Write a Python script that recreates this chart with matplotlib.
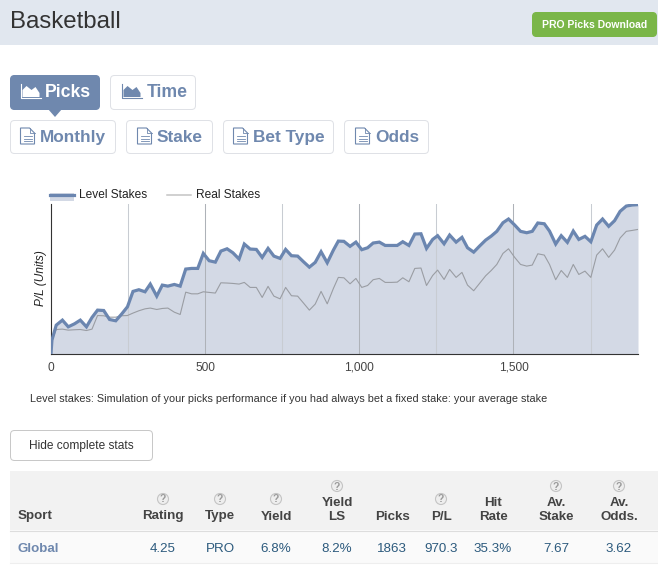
import matplotlib
matplotlib.use("Agg")
import matplotlib.pyplot as plt
from matplotlib.patches import Circle, FancyBboxPatch, Polygon, Rectangle

plt.rcParams["font.family"] = ["Liberation Sans", "DejaVu Sans"]

# chart values
picks = [0, 3, 17, 37, 56, 76, 95, 115, 133, 151, 171, 190, 210, 229, 248, 266, 285, 305, 322, 343,
         361, 379, 400, 419, 437, 456, 476, 494, 513, 533, 551, 571, 590, 610, 627, 646, 666, 685,
         704, 723, 743, 761, 780, 800, 819, 838, 857, 876, 896, 916, 932, 950, 970, 989, 1008, 1027,
         1045, 1065, 1084, 1104, 1123, 1141, 1161, 1180, 1200, 1218, 1238, 1254, 1275, 1293, 1314,
         1333, 1351, 1371, 1390, 1410, 1428, 1446, 1466, 1484, 1504, 1523, 1543, 1561, 1579, 1600,
         1617, 1637, 1655, 1675, 1694, 1712, 1732, 1751, 1770, 1789, 1809, 1828, 1846, 1866, 1885, 1904]
level_stakes = [0, 104, 221, 260, 208, 231, 260, 208, 281, 338, 335, 265, 255, 307, 364, 484, 497, 481,
                541, 447, 533, 525, 538, 525, 658, 663, 663, 780, 723, 712, 798, 816, 785, 736, 853,
                814, 811, 749, 819, 759, 741, 811, 762, 759, 715, 673, 710, 793, 707, 806, 876, 874,
                835, 868, 809, 824, 861, 868, 842, 842, 842, 871, 842, 931, 933, 819, 889, 918, 855,
                923, 868, 905, 824, 790, 837, 884, 915, 952, 1019, 1048, 1001, 952, 941, 952, 1017,
                1011, 954, 853, 918, 866, 954, 889, 913, 871, 1001, 1048, 991, 1035, 1108, 1149, 1157, 1160]
real_stakes = [0, 104, 187, 190, 182, 185, 187, 179, 190, 296, 294, 283, 283, 294, 296, 315, 333, 348,
               354, 343, 351, 354, 322, 304, 478, 465, 465, 481, 476, 471, 551, 549, 546, 541, 554,
               515, 515, 437, 523, 447, 426, 515, 450, 447, 393, 338, 385, 484, 387, 507, 593, 590,
               543, 585, 515, 530, 575, 585, 554, 554, 556, 590, 559, 663, 666, 530, 608, 650, 577,
               655, 593, 632, 533, 489, 546, 606, 647, 694, 780, 816, 749, 694, 681, 689, 777, 767,
               694, 575, 647, 593, 694, 616, 642, 593, 767, 816, 749, 806, 900, 952, 959, 967]
major_ticks = [0, 500, 1000, 1500]
minor_ticks = [250, 750, 1250, 1750]

# table values
table_headers = ["Rating", "Type", "Yield", "Yield\nLS", "Picks", "P/L", "Hit\nRate", "Av.\nStake", "Av.\nOdds."]
table_values = ["4.25", "PRO", "6.8%", "8.2%", "1863", "970.3", "35.3%", "7.67", "3.62"]
table_help = [True, True, True, True, False, True, False, True, True]
table_x = [163, 220, 276, 337, 392, 441, 493, 556, 619]

W, H = 658, 567
BLUE = "#6f88ae"
BORDER = "#dfe1e6"

fig = plt.figure(figsize=(W / 100, H / 100), dpi=100)
page = fig.add_axes([0, 0, 1, 1])
page.set_xlim(0, W)
page.set_ylim(H, 0)
page.axis("off")


def button(x0, y0, x1, y1, face="white", edge=BORDER):
    box = FancyBboxPatch((x0 + 4.5, y0 + 4.5), x1 - x0 - 9, y1 - y0 - 9, boxstyle="round,pad=4",
                         fc=face, ec=edge, lw=0.72)
    box.set_snap(False)
    page.add_patch(box)


def area_icon(x, y, color):
    page.plot([x, x, x + 20], [y, y + 14, y + 14], color=color, lw=0.8)
    page.add_patch(Polygon([(x + 2, y + 13), (x + 2, y + 6), (x + 6, y + 2), (x + 11, y + 6), (x + 15, y + 3),
                            (x + 19, y + 9), (x + 19, y + 13)], fc=color, ec="none"))


def doc_icon(x, y, color):
    page.add_patch(Polygon([(x, y), (x + 9, y), (x + 14, y + 5), (x + 14, y + 16), (x, y + 16)],
                           fc="white", ec=color, lw=0.8))
    page.plot([x + 9, x + 9, x + 14], [y, y + 5, y + 5], color=color, lw=0.6)
    for dy in (8, 10.5, 13):
        page.plot([x + 3, x + 11], [y + dy, y + dy], color=color, lw=0.6)


def help_icon(x, y):
    page.add_patch(Circle((x, y), 5.5, fc="#eeeeee", ec="#c4c4c4", lw=0.8))
    page.text(x, y + 0.5, "?", ha="center", va="center", fontsize=7.5, fontweight="bold", color="#9a9a9a")


# header band
page.add_patch(Rectangle((0, 0), W, 44.5, fc="#e1e7ef", ec="none"))
page.text(10, 22.5, "Basketball", fontsize=17.3, color="#333333", va="center")
button(532, 12, 657, 37, face="#7ab648", edge="#7ab648")
page.text(595, 25, "PRO Picks Download", fontsize=7.5, fontweight="bold", color="white", ha="center", va="center")

# tab buttons
button(10, 75, 100, 110, face=BLUE, edge=BLUE)
page.add_patch(Polygon([(48, 109), (62, 109), (55, 117)], fc=BLUE, ec="none"))
area_icon(20.5, 84, "white")
page.text(45, 92.5, "Picks", fontsize=12.7, fontweight="bold", color="white", va="center")
button(110, 75, 196, 110)
area_icon(121.5, 84, BLUE)
page.text(147, 92.5, "Time", fontsize=12.7, fontweight="bold", color=BLUE, va="center")
for x0, x1, label, text_x in [(10, 116, "Monthly", 40), (126, 213, "Stake", 157),
                              (223, 334, "Bet Type", 253), (344, 429, "Odds", 375)]:
    button(x0, 120, x1, 154)
    doc_icon(text_x - 19.5, 128, BLUE)
    page.text(text_x, 137.5, label, fontsize=12.4, fontweight="bold", color=BLUE, va="center")

# chart
ax = fig.add_axes([51 / W, 1 - 353.5 / H, 587 / W, 149.5 / H])
ax.patch.set_alpha(0)
ax.fill_between(picks, level_stakes, 0, color="#d3d9e5", lw=0, zorder=1)
for v in major_ticks[1:]:
    ax.axvline(v, color="#aeb2b8", lw=0.75, zorder=2)
for v in minor_ticks:
    ax.axvline(v, color="#c8ccd2", lw=0.75, zorder=2)
ax.plot(picks, real_stakes, color="#9a9da3", lw=0.8, zorder=3)
ax.plot(picks, level_stakes, color="#6b86b0", lw=2.3, zorder=4, solid_joinstyle="miter")
ax.set_xlim(0, 1904)
ax.set_ylim(0, 1165)
ax.set_yticks([])
ax.set_xticks(major_ticks, [f"{v:,}" for v in major_ticks], fontsize=8.6, color="#444444")
ax.tick_params(axis="x", length=0, pad=6)
for side in ("top", "right"):
    ax.spines[side].set_visible(False)
for side in ("left", "bottom"):
    ax.spines[side].set_color("#333333")
    ax.spines[side].set_linewidth(0.8)

# chart legend and y label, placed by hand like the web chart
page.add_patch(Rectangle((50, 193), 24, 8, fc="#d3d9e5", ec="none"))
page.plot([50, 74], [195, 195], color="#6b86b0", lw=2.3)
page.text(79, 195.5, "Level Stakes", fontsize=8.6, color="#222222", va="center")
page.plot([167, 191], [195, 195], color="#c4c4c4", lw=1.1)
page.text(196.5, 195.5, "Real Stakes", fontsize=8.6, color="#222222", va="center")
page.text(41, 278, "P/L (Units)", fontsize=8.6, style="italic", rotation=90, color="#222222", ha="center", va="center")

page.text(30, 398.5, "Level stakes: Simulation of your picks performance if you had always bet a fixed stake: your average stake",
          fontsize=7.85, color="#333333", va="center")

button(10, 430, 153, 461, edge="#c8c8c8")
page.text(81.5, 446, "Hide complete stats", fontsize=8.6, color="#333333", ha="center", va="center")

# stats table
page.add_patch(Rectangle((10, 471), W - 10, 59, fc="#f2f2f2", ec="none"))
page.add_patch(Rectangle((10, 530), W - 10, 33, fc="#fafafa", ec="none"))
page.plot([10, W], [530.5, 530.5], color="#dddddd", lw=0.8)
page.plot([10, W], [563, 563], color="#eeeeee", lw=0.8)
page.text(18, 516.5, "Sport", fontsize=9.6, fontweight="bold", color="#444444", va="center")
page.text(17, 549, "Global", fontsize=9.6, fontweight="bold", color=BLUE, va="center")
for x, header, value, has_help in zip(table_x, table_headers, table_values, table_help):
    lines = header.split("\n")
    for i, line in enumerate(lines):
        page.text(x, 516.5 - 13 * (len(lines) - 1 - i), line, fontsize=9.6, fontweight="bold", color="#444444",
                  ha="center", va="center")
    if has_help:
        help_icon(x, 499 - 13 * (len(lines) - 1))
    page.text(x, 548.5, value, fontsize=9.6, color="#2c5a7d", ha="center", va="center")

fig.savefig("out.png", dpi=100)
